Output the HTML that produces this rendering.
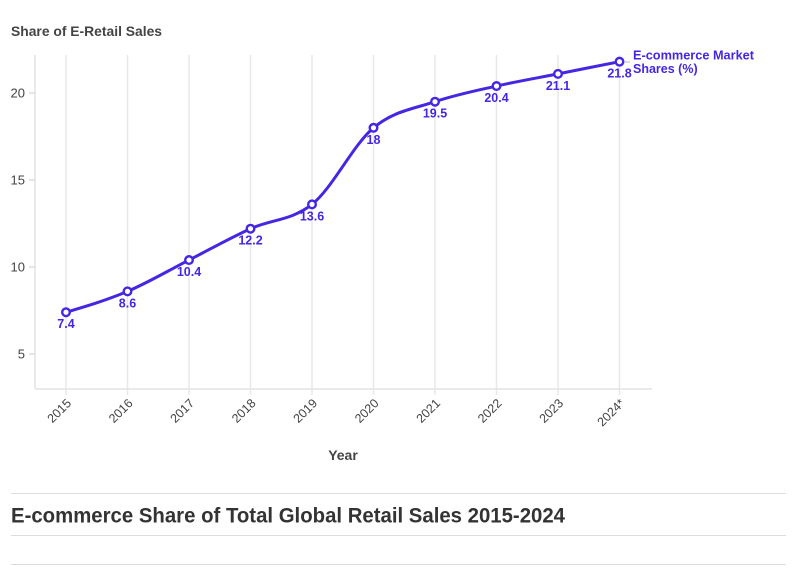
<!DOCTYPE html>
<html>
<head>
<meta charset="utf-8">
<style>
  html,body{margin:0;padding:0;background:#fff;}
  svg{display:block;font-family:"Liberation Sans",sans-serif;}
</style>
</head>
<body>
<svg id="c" width="796" height="575" viewBox="0 0 796 575" xmlns="http://www.w3.org/2000/svg">
  <text x="11" y="36" font-size="14" font-weight="bold" fill="#444" textLength="151" lengthAdjust="spacingAndGlyphs">Share of E-Retail Sales</text>
  <g id="grid" stroke="#e8e8e8" stroke-width="1.5"></g>
  <line x1="35" y1="55" x2="35" y2="389" stroke="#e4e4e4" stroke-width="1.5"/>
  <line x1="35" y1="389" x2="652" y2="389" stroke="#e4e4e4" stroke-width="1.5"/>
  <g id="yt" font-size="13" fill="#444" text-anchor="end"></g>
  <g id="xt" font-size="12.5" fill="#444" text-anchor="end"></g>
  <text x="343" y="460" font-size="14" font-weight="bold" fill="#444" text-anchor="middle">Year</text>
  <path id="ln" fill="none" stroke="#4527e3" stroke-width="3" stroke-linejoin="round"/>
  <g id="pts"></g>
  <line x1="625" y1="62" x2="630" y2="62" stroke="#bbb" stroke-width="1"/>
  <text x="633" y="59.5" font-size="12.5" font-weight="bold" fill="#4527e3" textLength="121" lengthAdjust="spacingAndGlyphs">E-commerce Market</text>
  <text x="633" y="73" font-size="12.5" font-weight="bold" fill="#4527e3">Shares (%)</text>
  <line x1="11" y1="493.5" x2="786" y2="493.5" stroke="#ddd" stroke-width="1"/>
  <text x="11" y="522.5" font-size="21" font-weight="bold" fill="#333" textLength="554" lengthAdjust="spacingAndGlyphs">E-commerce Share of Total Global Retail Sales 2015-2024</text>
  <line x1="11" y1="535.5" x2="786" y2="535.5" stroke="#ddd" stroke-width="1"/>
  <line x1="11" y1="564.5" x2="786" y2="564.5" stroke="#ddd" stroke-width="1"/>
</svg>
<script>
(function(){
  var NS="http://www.w3.org/2000/svg";
  var vals=[7.4,8.6,10.4,12.2,13.6,18,19.5,20.4,21.1,21.8];
  var labs=["2015","2016","2017","2018","2019","2020","2021","2022","2023","2024*"];
  function X(i){return 66+i*61.5;}
  function Y(v){return 93+(20-v)*17.4;}
  function el(tag,attrs,parent,text){var e=document.createElementNS(NS,tag);for(var k in attrs)e.setAttribute(k,attrs[k]);if(text!=null)e.textContent=text;parent.appendChild(e);return e;}
  var grid=document.getElementById("grid"),xt=document.getElementById("xt"),yt=document.getElementById("yt"),pts=document.getElementById("pts");
  for(var i=0;i<10;i++){
    var x=X(i);
    el("line",{x1:x,y1:55,x2:x,y2:395},grid);
    el("text",{x:0,y:0,transform:"translate("+(x+6)+",404) rotate(-45)"},xt,labs[i]);
  }
  [5,10,15,20].forEach(function(v){
    var y=Y(v);
    el("line",{x1:29,y1:y,x2:35,y2:y,stroke:"#ccc","stroke-width":1},document.getElementById("c"));
    el("text",{x:25,y:y+4.5},yt,String(v));
  });
  var px=vals.map(function(v,i){return X(i);}),py=vals.map(Y);
  var n=px.length,t=[];
  function sign(a){return a<0?-1:1;}
  for(var i=1;i<n-1;i++){
    var h0=px[i]-px[i-1],h1=px[i+1]-px[i],s0=(py[i]-py[i-1])/h0,s1=(py[i+1]-py[i])/h1,p=(s0*h1+s1*h0)/(h0+h1);
    t[i]=(sign(s0)+sign(s1))*Math.min(Math.abs(s0),Math.abs(s1),0.5*Math.abs(p))||0;
  }
  t[0]=(3*(py[1]-py[0])/(px[1]-px[0])-t[1])/2;
  t[n-1]=(3*(py[n-1]-py[n-2])/(px[n-1]-px[n-2])-t[n-2])/2;
  var d="M"+px[0]+","+py[0];
  for(var i=1;i<n;i++){
    var dx=(px[i]-px[i-1])/3;
    d+="C"+(px[i-1]+dx)+","+(py[i-1]+dx*t[i-1])+","+(px[i]-dx)+","+(py[i]-dx*t[i])+","+px[i]+","+py[i];
  }
  document.getElementById("ln").setAttribute("d",d);
  for(var i=0;i<n;i++){
    el("circle",{cx:px[i],cy:py[i],r:3.8,fill:"#fff",stroke:"#4527e3","stroke-width":2.4},pts);
    el("text",{x:px[i],y:py[i]+16,"font-size":12.5,"font-weight":"bold",fill:"#4527e3","text-anchor":"middle"},pts,String(vals[i]));
  }
})();
</script>
</body>
</html>
